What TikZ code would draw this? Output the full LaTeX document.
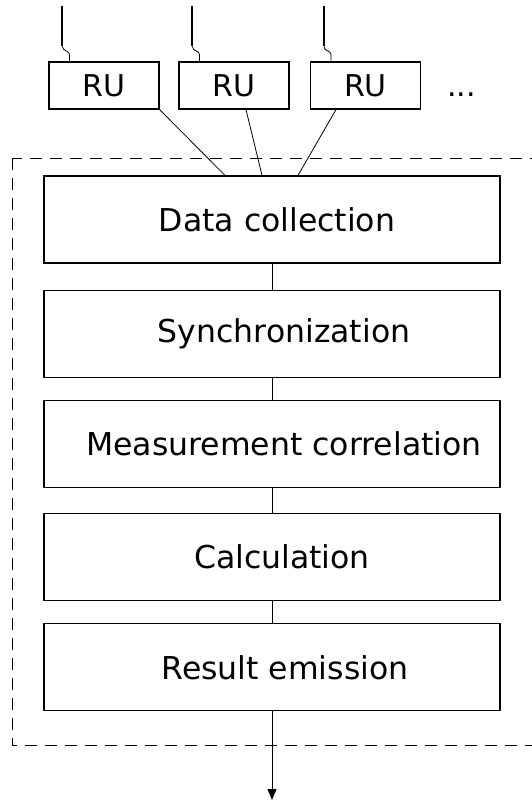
\documentclass[tikz,border=0pt]{standalone}
\usepackage{fontspec}
\setmainfont{DejaVu Sans}
\usetikzlibrary{arrows.meta,positioning,calc}

\begin{document}
\begin{tikzpicture}[
    x=1pt, y=-1pt,
    unit/.style={draw, line width=1.2pt, minimum width=110pt, minimum height=47pt, inner sep=0pt, font=\fontsize{30}{34}\selectfont},
    stage/.style={draw, line width=1.2pt, minimum width=456pt, minimum height=87pt, inner sep=0pt, font=\fontsize{31.5}{36}\selectfont, execute at begin node={\hspace*{#1}}},
    stage/.default=20pt,
    link/.style={line width=0.8pt},
    arr/.style={-{Triangle[length=11pt,width=9pt]}, line width=1pt}
]
\useasboundingbox (0,0) rectangle (531,801);

% processing chain
\node[stage=10pt] (collect) at (272,219.5) {Data collection};
\node[stage=24pt, below=26pt of collect] (sync) {Synchronization};
\node[stage=24pt, below=22pt of sync] (corr) {Measurement correlation};
\node[stage=20pt, below=25pt of corr] (calc) {Calculation};
\node[stage=26pt, below=22pt of calc] (emit) {Result emission};

% radio units on top
\node[unit] (ru1) at (104,85.5) {RU};
\node[unit] (ru2) at (234,85.5) {RU};
\node[unit] (ru3) at (365.5,85.5) {RU};
\node[font=\fontsize{30}{34}\selectfont, inner sep=0pt, base right=26pt of ru3] (dots) {...};

% antenna feeds
\foreach \u in {ru1,ru2,ru3}{
    \coordinate (\u-ant) at ($(\u.north west)+(14,-55)$);
    \coordinate (\u-feed) at ($(\u.north west)+(21,0)$);
    \draw[line width=2pt] (\u-ant) -- ++(0,40) coordinate (\u-bend);
    \draw[link] (\u-bend) .. controls +(0,5) and +(0,-4) .. ++(7,8) -- (\u-feed);
}

% links into data collection
\draw[link] (ru1.south east) -- ($(collect.north)+(-47,0)$);
\draw[link] ($(ru2.south)+(12,0)$) -- ($(collect.north)+(-10,0)$);
\draw[link] ($(ru3.south)+(-29.5,0)$) -- ($(collect.north)+(26,0)$);

\draw[link] (collect) -- (sync);
\draw[link] (sync) -- (corr);
\draw[link] (corr) -- (calc);
\draw[link] (calc) -- (emit);

\coordinate (out) at (272,800);
\draw[arr] (emit) -- (out);

% processing frame
\draw[dash pattern=on 12pt off 8pt, line width=0.8pt] (12,158) rectangle (560,745);
\end{tikzpicture}
\end{document}
